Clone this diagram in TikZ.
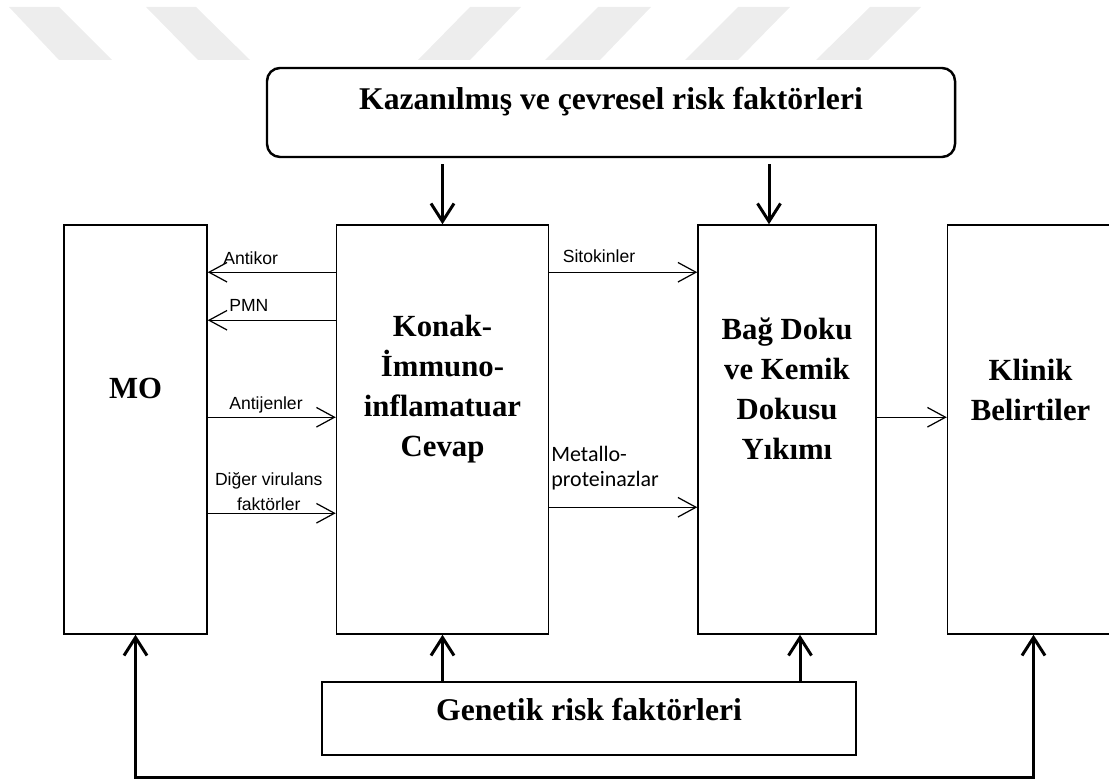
\documentclass[tikz,border=0pt]{standalone}
\usepackage{fontspec}
\setmainfont{Liberation Serif}
\setsansfont{Liberation Sans}
\newfontfamily\calfont{Carlito}
\usepackage{tikz}
\usetikzlibrary{arrows.meta}
\usetikzlibrary{positioning}
\tikzstyle{mainbox} = [
    draw,
    line width=0.85pt,
    minimum height=81.8mm,
    inner sep=0pt
]
\tikzstyle{riskbox} = [draw, line width=0.85pt, inner sep=0pt]
\tikzstyle{boxtext} = [align=center, font=\bfseries\fontsize{17.5}{22.8}\selectfont]
\tikzstyle{risktext} = [font=\bfseries\fontsize{18}{22}\selectfont]
\tikzstyle{thickarrow} = [line width=1.7pt, >={Straight Barb[length=3.6mm, width=4.6mm]}, ->]
\tikzstyle{thinarrow} = [line width=0.7pt, -{Straight Barb[length=3.6mm, width=3.9mm]}]
\tikzstyle{arrowlabel} = [inner sep=0pt, font=\sffamily\fontsize{10}{14}\selectfont]
\tikzstyle{watermark} = [fill=gray!14]

\begin{document}
\begin{tikzpicture}[x=0.2mm, y=-0.2mm]

\useasboundingbox (0,0) rectangle (1109,781);

% faint marks at the top
\fill[watermark] (9,7) -- (59,7) -- (112,60) -- (59,60) -- cycle;
\fill[watermark] (146,7) -- (196,7) -- (250,60) -- (198,60) -- cycle;
\fill[watermark] (470,7) -- (521,7) -- (470,60) -- (418,60) -- cycle;
\fill[watermark] (598,7) -- (651,7) -- (600,60) -- (545,60) -- cycle;
\fill[watermark] (738,7) -- (790,7) -- (738,60) -- (685,60) -- cycle;
\fill[watermark] (870,7) -- (921,7) -- (868,60) -- (816,60) -- cycle;

\node [draw,
    line width=1.4pt,
    rounded corners=2.6mm,
    minimum width=137.6mm,
    minimum height=17.8mm
]  (kazanilmis) at (611,112.5) {};
\node [risktext] (kazanilmistxt) at ([yshift=2.1mm]kazanilmis.center)
    {Kazanılmış ve çevresel risk faktörleri};

\node [mainbox,
    minimum width=28.6mm
]  (mo) at (135.5,429.5) {};

\node [mainbox,
    minimum width=42.4mm,
    right=25.6mm of mo
]  (konak) {};

\node [mainbox,
    minimum width=35.6mm,
    right=29.6mm of konak
]  (bag) {};

\node [mainbox,
    minimum width=32.6mm,
    right=14mm of bag
]  (klinik) {};

\node [riskbox,
    minimum width=106.8mm,
    minimum height=14.6mm
]  (genetik) at (589,718.5) {};
\node [risktext] (genetiktxt) at ([yshift=1.7mm]genetik.center)
    {Genetik risk faktörleri};

\node [boxtext] (motxt) at ([yshift=8.3mm]mo.center) {MO};
\node [boxtext] (konaktxt) at ([yshift=8.1mm]konak.center)
    {Konak-\\İmmuno-\\inflamatuar\\Cevap};
\node [boxtext] (bagtxt) at ([yshift=8.1mm]bag.center)
    {Bağ Doku\\ve Kemik\\Dokusu\\Yıkımı};
\node [boxtext] (kliniktxt) at ([xshift=0.3mm, yshift=7.9mm]klinik.center)
    {Klinik\\Belirtiler};

\draw[thickarrow, shorten <=1.2mm] (kazanilmis.south -| konak) -- (konak.north);
\draw[thickarrow, shorten <=1.2mm] ([xshift=-3.6mm]bag.north |- kazanilmis.south) -- ([xshift=-3.6mm]bag.north);

\draw[thickarrow] (genetik.north -| konak) -- (konak.south);
\draw[thickarrow] ([xshift=2.6mm]bag.south |- genetik.north) -- ([xshift=2.6mm]bag.south);

\coordinate (loop) at (589,777);
\draw[thickarrow, <->] (mo.south) |- (loop) -| ([xshift=0.9mm]klinik.south);

\draw[thinarrow] ([yshift=-9.6mm]konak.north west) -- ([yshift=-9.6mm]konak.north west -| mo.east)
    node[arrowlabel, anchor=base west, xshift=3mm, yshift=1.6mm] (antikor) {Antikor};
\draw[thinarrow] ([yshift=-19.2mm]konak.north west) -- ([yshift=-19.2mm]konak.north west -| mo.east)
    node[arrowlabel, anchor=base west, xshift=4.2mm, yshift=1.8mm] (pmn) {PMN};
\draw[thinarrow] ([yshift=-38.6mm]mo.north east)
    node[arrowlabel, anchor=base west, xshift=4.2mm, yshift=1.6mm] (antijen) {Antijenler}
    -- ([yshift=-38.6mm]mo.north east -| konak.west);
\draw[thinarrow] ([yshift=-57.8mm]mo.north east)
    node[arrowlabel, align=center, anchor=south, xshift=12.2mm, yshift=0.4mm] (virulans) {Diğer virulans\\faktörler}
    -- ([yshift=-57.8mm]mo.north east -| konak.west);

\draw[thinarrow] ([yshift=-9.6mm]konak.north east)
    node[arrowlabel, anchor=base west, xshift=2.6mm, yshift=2mm] (sitokin) {Sitokinler}
    -- ([yshift=-9.6mm]konak.north east -| bag.west);
\draw[thinarrow] ([yshift=-56.6mm]konak.north east)
    node[arrowlabel, align=left, anchor=south west, xshift=0.3mm, yshift=3.3mm,
         font=\calfont\fontsize{12.5}{14}\selectfont] (metallo) {Metallo-\\proteinazlar}
    -- ([yshift=-56.6mm]konak.north east -| bag.west);

\draw[thinarrow] ([yshift=-38.6mm]bag.north east) -- ([yshift=-38.6mm]bag.north east -| klinik.west);

\end{tikzpicture}
\end{document}
